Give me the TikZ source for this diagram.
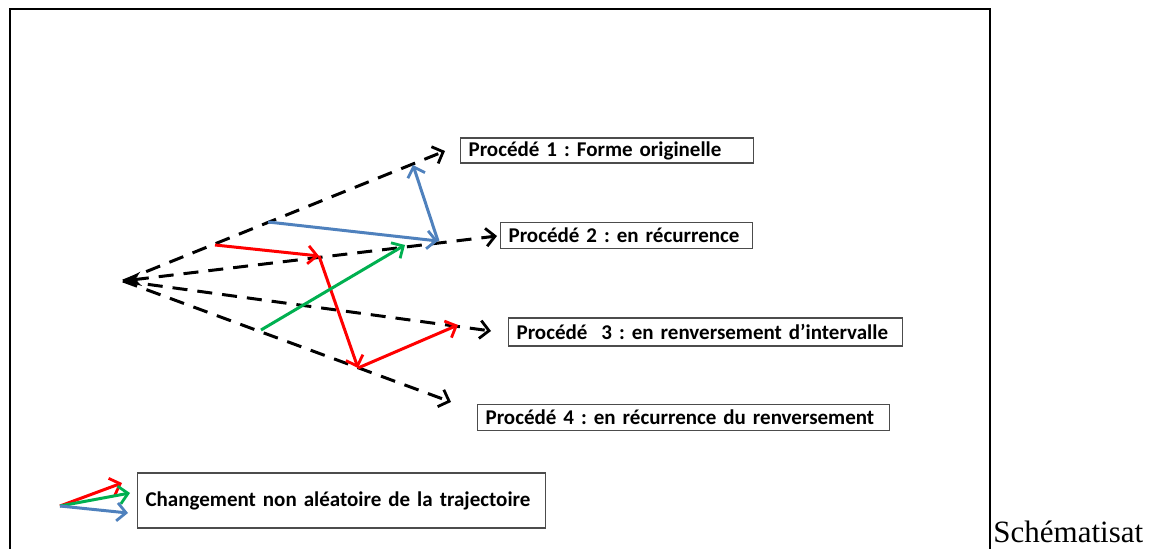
\documentclass[tikz,border=0pt]{standalone}
\usepackage{fontspec}
\setmainfont{Liberation Serif}
\newfontfamily\labelfont{Carlito}
\usetikzlibrary{arrows.meta, positioning}

\definecolor{procblue}{RGB}{79,129,189}
\definecolor{procred}{RGB}{255,0,0}
\definecolor{procgreen}{RGB}{0,176,80}

\tikzset{
    box/.style={draw=black!70, line width=0.6pt, anchor=west, align=left,
        inner xsep=4pt, inner ysep=0pt, minimum height=13pt,
        font=\frenchspacing\labelfont\bfseries\fontsize{10.5}{12}\selectfont},
    axe/.style={dashed, dash pattern=on 7.5pt off 5pt, line width=1.5pt, black},
    move/.style={line width=1.5pt}
}

\begin{document}
\begin{tikzpicture}[x=0.5pt, y=-0.5pt, >={Straight Barb[length=4.5pt,width=9pt,line width=1.4pt]}]
        \useasboundingbox (0,0) rectangle (1151,549);
        \clip (0,0) rectangle (1151,549);

        % Cadre
        \draw[line width=1pt] (10,560) -- (10,9) -- (990,9) -- (990,560);
        \node[anchor=base west, inner sep=0pt, font=\fontsize{15.5}{17}\selectfont] (titre) at (993,543) {Schématisat};

        % Procédés
        \node[box, text width=138.5pt, minimum height=12.5pt] (p1) at (460,150.5) {Procédé 1 : Forme originelle};
        \node[box, text width=118pt] (p2) at (500,235.5) {Procédé 2 : en récurrence};
        \node[box, text width=189pt, minimum height=14pt] (p3) at (508,332) {Procédé \ 3 : en renversement d’intervalle};
        \node[box, text width=198pt] (p4) at (477,417.5) {Procédé 4 : en récurrence du renversement};

        % Origine et extremites des axes
        \coordinate (o) at (123,281);
        \coordinate (t1) at (445,151);
        \coordinate (t2) at (497,236);
        \coordinate (t3) at (491,331);
        \coordinate (t4) at (451,402);

        % Axes en pointilles
        \draw[axe, ->] (o) -- (t1);
        \draw[axe, {Stealth[length=9pt,width=7pt]}->] (o) -- (t2);
        \draw[axe, ->] (o) -- (t3);
        \draw[axe, ->] (o) -- (t4);

        % Points sur les axes
        \coordinate (a1) at (268,222);
        \coordinate (a2) at (438,241);
        \coordinate (a3) at (413,165);
        \coordinate (r1) at (215,245);
        \coordinate (r2) at (319,256);
        \coordinate (r3) at (358,368);
        \coordinate (r4) at (458,325);
        \coordinate (g1) at (261,330);
        \coordinate (g2) at (405,245);

        % Trajectoire bleue
        \draw[move, procblue, ->] (a1) -- (a2);
        \draw[move, procblue, ->] (a2) -- (a3);

        % Trajectoire rouge
        \draw[move, procred, ->] (r1) -- (r2);
        \draw[move, procred, ->] (r2) -- (r3);
        \draw[move, procred, ->] (r3) -- (r4);

        % Trajectoire verte
        \draw[move, procgreen, ->] (g1) -- (g2);

        % Legende
        \node[box, text width=196pt, minimum height=27.5pt] (leg) at (137,500.5) {Changement non aléatoire de la trajectoire};
        \coordinate (l0) at (60,506);
        \coordinate (lr) at (122,483);
        \coordinate (lg) at (130,493);
        \coordinate (lb) at (128,513);
        \draw[move, procred, ->] (l0) -- (lr);
        \draw[move, procgreen, ->] (l0) -- (lg);
        \draw[move, procblue, ->] (l0) -- (lb);
\end{tikzpicture}
\end{document}
